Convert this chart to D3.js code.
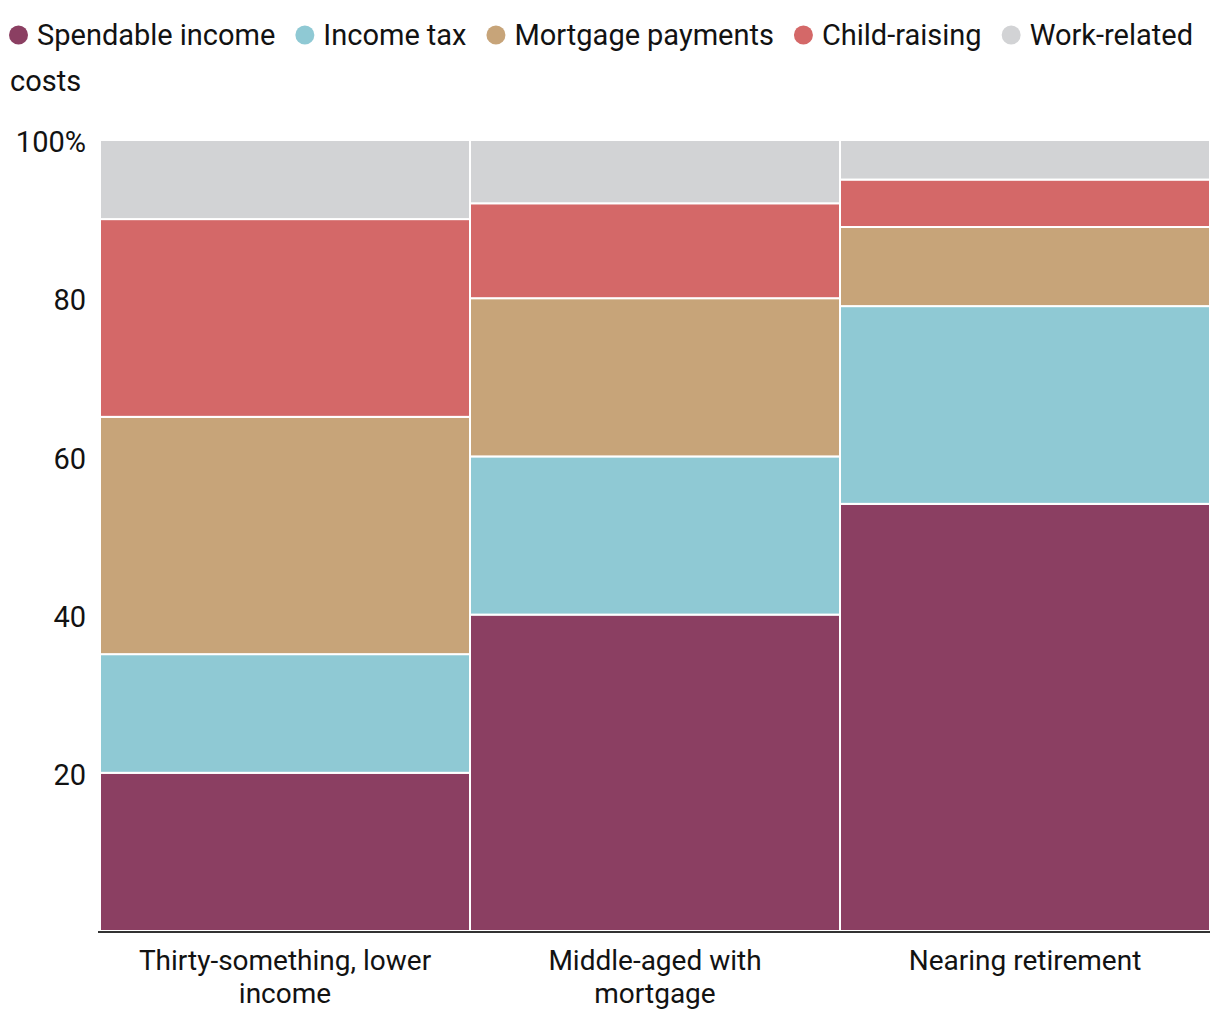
<!DOCTYPE html>
<html>
<head>
<meta charset="utf-8">
<script src="https://cdn.jsdelivr.net/npm/d3@7"></script>
<style>
  body { margin: 0; background: #fff; font-family: Roboto, "Noto Sans", sans-serif; }
</style>
</head>
<body>
<div id="chart"></div>
<script>
// categories and series
var categories = ["Thirty-something, lower income", "Middle-aged with mortgage", "Nearing retirement"];
var categoryLines = [["Thirty-something, lower", "income"], ["Middle-aged with", "mortgage"], ["Nearing retirement"]];
var seriesNames = ["Spendable income", "Income tax", "Mortgage payments", "Child-raising", "Work-related costs"];
var seriesColors = ["#8b3f62", "#8fc9d4", "#c7a479", "#d46868", "#d2d3d5"];

// values, % of income
var spendableIncome = [20, 40, 54];
var incomeTax = [15, 20, 25];
var mortgagePayments = [30, 20, 10];
var childRaising = [25, 12, 6];
var workRelated = [10, 8, 5];

var yTicks = [20, 40, 60, 80, 100];

var svgWidth = 1220;
var svgHeight = 1020;
var margin = { top: 140, right: 10, bottom: 89, left: 100 };
var width = svgWidth - margin.left - margin.right;
var height = svgHeight - margin.top - margin.bottom;

// build table for d3.stack
var seriesValues = [spendableIncome, incomeTax, mortgagePayments, childRaising, workRelated];
var table = categories.map(function (c, i) {
    var row = { category: c };
    seriesNames.forEach(function (s, j) { row[s] = seriesValues[j][i]; });
    return row;
});
var stacked = d3.stack().keys(seriesNames)(table);

var svg = d3.select("#chart")
    .append("svg")
    .attr("width", svgWidth)
    .attr("height", svgHeight);

// legend, laid out word by word so it wraps like flowing text
var legendGroup = svg.append("g")
    .attr("font-size", 29)
    .attr("fill", "#121212");
var lx = 9, ly = 45, lineStep = 46, maxX = 1205;
var spaceW = 7;
seriesNames.forEach(function (s, j) {
    legendGroup.append("circle")
        .attr("cx", lx + 9.5)
        .attr("cy", ly - 10)
        .attr("r", 9.5)
        .attr("fill", seriesColors[j]);
    lx += 28;
    s.split(" ").forEach(function (word, k) {
        var t = legendGroup.append("text").text(word);
        var w = t.node().getComputedTextLength();
        if (k > 0) {
            if (lx + spaceW + w > maxX) { lx = 10; ly += lineStep; }
            else lx += spaceW;
        }
        t.attr("x", lx).attr("y", ly);
        lx += w;
    });
    lx += 20;
});

var chartGroup = svg.append("g")
    .attr("transform", `translate(${margin.left}, ${margin.top})`);

var xScale = d3.scaleBand().domain(categories).range([0, width]).padding(0);
var yScale = d3.scaleLinear().domain([0, 100]).range([height, 0]);

// bars
chartGroup.selectAll("g.layer")
    .data(stacked)
    .enter()
    .append("g")
    .attr("class", "layer")
    .attr("fill", (d, j) => seriesColors[j])
    .selectAll("rect")
    .data(d => d)
    .enter()
    .append("rect")
    .attr("x", d => xScale(d.data.category))
    .attr("width", xScale.bandwidth())
    .attr("y", d => yScale(d[1]))
    .attr("height", d => yScale(d[0]) - yScale(d[1]))
    .attr("stroke", "#fff")
    .attr("stroke-width", 2);

// y axis
var leftAxis = d3.axisLeft(yScale)
    .tickValues(yTicks)
    .tickSize(0)
    .tickPadding(14)
    .tickFormat(d => d === 100 ? "100%" : d);

var yAxis = chartGroup.append("g").call(leftAxis);
yAxis.select(".domain").remove();
yAxis.selectAll("text")
    .attr("font-family", "Roboto, 'Noto Sans', sans-serif")
    .attr("font-size", 29)
    .attr("dy", "0.4em")
    .attr("fill", "#121212");

// x axis baseline
chartGroup.append("line")
    .attr("x1", -2)
    .attr("x2", width)
    .attr("y1", height + 1)
    .attr("y2", height + 1)
    .attr("stroke", "#333")
    .attr("stroke-width", 2);

// x labels
var xLabels = chartGroup.selectAll("text.xlabel")
    .data(categories)
    .enter()
    .append("text")
    .attr("class", "xlabel")
    .attr("text-anchor", "middle")
    .attr("font-size", 28)
    .attr("fill", "#121212")
    .attr("transform", d => `translate(${xScale(d) + xScale.bandwidth() / 2}, ${height + 39})`);

xLabels.each(function (d, i) {
    var t = d3.select(this);
    categoryLines[i].forEach(function (line, k) {
        t.append("tspan").attr("x", 0).attr("y", k * 33).text(line);
    });
});
</script>
</body>
</html>
